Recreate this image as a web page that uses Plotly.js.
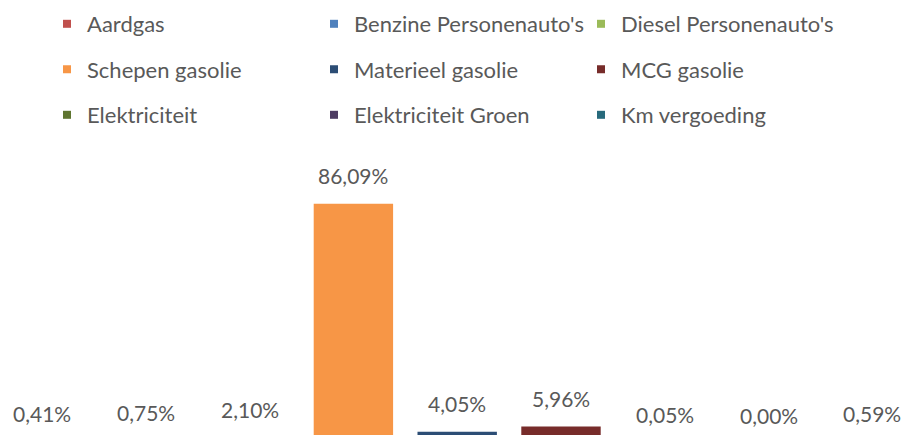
<!DOCTYPE html>
<html>
<head>
<meta charset="utf-8">
<script src="https://cdn.plot.ly/plotly-3.0.1.min.js"></script>
<style>
  html, body { margin: 0; padding: 0; overflow: hidden; background: #ffffff; }
  #chart { width: 907px; height: 450px; }
</style>
</head>
<body>
<div id="chart"></div>
<script>
const categories = ["Aardgas", "Benzine Personenauto's", "Diesel Personenauto's",
  "Schepen gasolie", "Materieel gasolie", "MCG gasolie",
  "Elektriciteit", "Elektriciteit Groen", "Km vergoeding"];
const values = [0.41, 0.75, 2.10, 86.09, 4.05, 5.96, 0.05, 0.00, 0.59];
const labels = ["0,41%", "0,75%", "2,10%", "86,09%", "4,05%", "5,96%", "0,05%", "0,00%", "0,59%"];
const colors = ["#C0504D", "#4F81BD", "#9BBB59", "#F79646", "#2C4D75", "#772C2A",
  "#5F7530", "#4D3B62", "#276A7C"];
const legendRows = ["legend", "legend", "legend", "legend2", "legend2", "legend2",
  "legend3", "legend3", "legend3"];

const FONT = "Lato, 'Open Sans', sans-serif";
const TXT = "#595959";
const FS = 21;
const LFS = 22;

const traces = [];
categories.forEach((c, i) => {
  traces.push({
    type: "bar",
    x: [c],
    y: [values[i]],
    name: c,
    width: 0.765,
    marker: { color: colors[i] },
    showlegend: false,
    hoverinfo: "skip"
  });
});
categories.forEach((c, i) => {
  traces.push({
    type: "scatter",
    mode: "markers",
    x: [null],
    y: [null],
    name: c,
    marker: { symbol: "square", size: 8, color: colors[i] },
    legend: legendRows[i],
    showlegend: true,
    hoverinfo: "skip"
  });
});

const annotations = categories.map((c, i) => ({
  x: c, y: values[i], xref: "x", yref: "y",
  text: labels[i], showarrow: false,
  yanchor: "middle", xanchor: "center", yshift: 28,
  font: { family: FONT, size: FS, color: TXT }
}));

const H = 450;
function legendAt(yCenter) {
  return {
    orientation: "h",
    xref: "container", yref: "container",
    x: 47 / 907, xanchor: "left",
    y: 1 - yCenter / H, yanchor: "middle",
    entrywidth: 222, entrywidthmode: "pixels",
    bgcolor: "rgba(0,0,0,0)",
    font: { family: FONT, size: LFS, color: TXT },
    traceorder: "normal"
  };
}

const layout = {
  width: 907, height: H,
  margin: { l: 0, r: 0, t: 140, b: 7, pad: 0 },
  paper_bgcolor: "#ffffff", plot_bgcolor: "#ffffff",
  barmode: "overlay",
  showlegend: true,
  legend: legendAt(24),
  legend2: legendAt(69.5),
  legend3: legendAt(115),
  xaxis: { type: "category", range: [-0.4046, 8.3333], visible: false, fixedrange: true },
  yaxis: { range: [0, 109.0], visible: false, fixedrange: true },
  annotations: annotations,
  hovermode: false,
  font: { family: FONT, color: TXT }
};

Plotly.newPlot("chart", traces, layout, { displayModeBar: false, staticPlot: true });
</script>
</body>
</html>
